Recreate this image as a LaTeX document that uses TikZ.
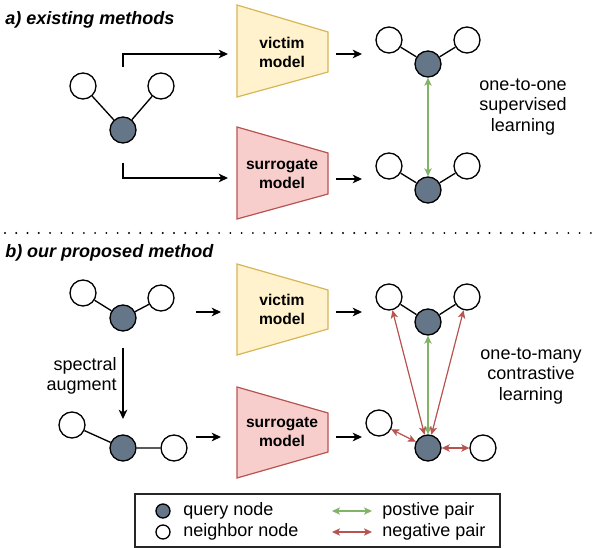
\documentclass[tikz,border=0pt]{standalone}
\usepackage{fontspec}
\setmainfont{Liberation Sans}
\usetikzlibrary{arrows.meta}
\definecolor{qfill}{HTML}{647687}
\definecolor{yfill}{HTML}{FFF2CC}
\definecolor{ydraw}{HTML}{D6B656}
\definecolor{rfill}{HTML}{F8CECC}
\definecolor{rdraw}{HTML}{B85450}
\definecolor{gline}{HTML}{82B366}
\begin{document}
\begin{tikzpicture}[x=0.75pt,y=-0.75pt,
  nb/.style={circle,draw=black,fill=white,line width=1pt,minimum size=19.5pt,inner sep=0pt},
  qn/.style={nb,fill=qfill},
  lnb/.style={circle,draw=black,fill=white,line width=1pt,minimum size=10.5pt,inner sep=0pt},
  lqn/.style={lnb,fill=qfill},
  gedge/.style={line width=1pt},
  arr/.style={-{Stealth[length=7pt,width=6.5pt,inset=2pt]},line width=1pt},
  posarr/.style={{Stealth[length=6pt,width=5.5pt,inset=1.5pt]}-{Stealth[length=6pt,width=5.5pt,inset=1.5pt]},line width=0.9pt,draw=gline,fill=gline},
  negarr/.style={{Stealth[length=6pt,width=5.5pt,inset=1.5pt]}-{Stealth[length=6pt,width=5.5pt,inset=1.5pt]},line width=0.9pt,draw=rdraw,fill=rdraw},
  victim/.style={fill=yfill,draw=ydraw,line width=0.9pt},
  surro/.style={fill=rfill,draw=rdraw,line width=0.9pt},
  mtext/.style={font=\fontsize{11.7}{14.2}\selectfont\bfseries,align=center,inner sep=0pt},
  lbl/.style={font=\fontsize{13.5}{15.5}\selectfont,align=center,inner sep=0pt},
  title/.style={font=\fontsize{13.5}{16}\selectfont\bfseries\itshape,anchor=west,inner sep=0pt},
  ltext/.style={font=\fontsize{13.5}{16}\selectfont,anchor=west,inner sep=0pt}]
\useasboundingbox (0,0) rectangle (598,548);

% ---------- section a ----------
\node[title] (ta) at (5,20) {a) existing methods};

% left graph a
\node[nb] (a1) at (83,86) {};
\node[nb] (a2) at (161,86) {};
\node[qn] (aq) at (123,130) {};
\draw[gedge] (a1) -- (aq) -- (a2);

% models a
\draw[victim] (237,5) -- (328,32) -- (328,72) -- (237,97) -- cycle;
\node[mtext] (va) at (282,52) {victim\\model};
\draw[surro] (237,127) -- (328,153) -- (328,194) -- (237,219) -- cycle;
\node[mtext] (sa) at (282,174) {surrogate\\model};

\coordinate (as1) at (123,67);
\coordinate (ae1) at (228,54);
\coordinate (as2) at (123,163);
\coordinate (ae2) at (228,178);
\draw[arr] (as1) |- (ae1);
\draw[arr] (as2) |- (ae2);

\coordinate (ao1) at (336,54);
\coordinate (ai1) at (362,54);
\coordinate (ao2) at (336,179);
\coordinate (ai2) at (362,179);
\draw[arr] (ao1) -- (ai1);
\draw[arr] (ao2) -- (ai2);

% right graphs a
\node[nb] (r1) at (389,40) {};
\node[nb] (r2) at (467,40) {};
\node[qn] (rq) at (428,64) {};
\draw[gedge] (r1) -- (rq) -- (r2);
\node[nb] (s1) at (389,166) {};
\node[nb] (s2) at (467,166) {};
\node[qn] (sq) at (428,190) {};
\draw[gedge] (s1) -- (sq) -- (s2);
\draw[posarr] (rq) -- (sq);

\node[lbl] (la) at (523,107) {one-to-one\\supervised\\learning};

% ---------- separator ----------
\coordinate (d1) at (5,233);
\coordinate (d2) at (592,233);
\draw[line width=1.6pt,line cap=round,dash pattern=on 0pt off 8.45pt] (d1) -- (d2);

% ---------- section b ----------
\node[title] (tb) at (5,253) {b) our proposed method};

\node[nb] (b1) at (83,293) {};
\node[nb] (b2) at (161,298) {};
\node[qn] (bq) at (123,318) {};
\draw[gedge] (b1) -- (bq) -- (b2);

\node[nb] (c1) at (72,425) {};
\node[nb] (c2) at (174,448) {};
\node[qn] (cq) at (123,448) {};
\draw[gedge] (c1) -- (cq) -- (c2);

\coordinate (sp1) at (123,348);
\coordinate (sp2) at (123,419);
\draw[arr] (sp1) -- (sp2);
\node[lbl,align=right,anchor=east] (spt) at (117,376) {spectral\\augment};

\draw[victim] (237,264) -- (328,290) -- (328,329) -- (237,355) -- cycle;
\node[mtext] (vb) at (282,309) {victim\\model};
\draw[surro] (237,387) -- (328,413) -- (328,452) -- (237,478) -- cycle;
\node[mtext] (sb) at (282,432) {surrogate\\model};

\coordinate (bi1) at (196,312);
\coordinate (be1) at (221,312);
\coordinate (bi2) at (196,437);
\coordinate (be2) at (221,437);
\draw[arr] (bi1) -- (be1);
\draw[arr] (bi2) -- (be2);
\coordinate (bo1) at (336,312);
\coordinate (bf1) at (362,312);
\coordinate (bo2) at (336,437);
\coordinate (bf2) at (362,437);
\draw[arr] (bo1) -- (bf1);
\draw[arr] (bo2) -- (bf2);

\node[nb] (t1) at (389,297) {};
\node[nb] (t2) at (467,297) {};
\node[qn] (tq) at (428,322) {};
\draw[gedge] (t1) -- (tq) -- (t2);
\node[nb] (u1) at (379,423) {};
\node[nb] (u2) at (483,448) {};
\node[qn] (uq) at (428,448) {};

\draw[posarr] (tq) -- (uq);
\draw[negarr] (uq) -- (t1);
\draw[negarr] (uq) -- (t2);
\draw[negarr] (uq) -- (u1);
\draw[negarr] (uq) -- (u2);

\node[lbl] (lb) at (531,376) {one-to-many\\contrastive\\learning};

% ---------- legend ----------
\node[draw=black!85,line width=1pt,minimum width=273.75pt,minimum height=39.75pt,inner sep=0pt] (legend) at (317.5,520.5) {};
\node[lqn] (lq) at (163,511) {};
\node[ltext] (lqt) at (183,511) {query node};
\node[lnb] (ln) at (163,532) {};
\node[ltext] (lnt) at (183,532) {neighbor node};
\coordinate (lp1) at (332,511);
\coordinate (lp2) at (372,511);
\draw[posarr] (lp1) -- (lp2);
\node[ltext] (lpt) at (382,511) {postive pair};
\coordinate (lm1) at (332,532);
\coordinate (lm2) at (372,532);
\draw[negarr] (lm1) -- (lm2);
\node[ltext] (lmt) at (382,532) {negative pair};
\end{tikzpicture}
\end{document}
